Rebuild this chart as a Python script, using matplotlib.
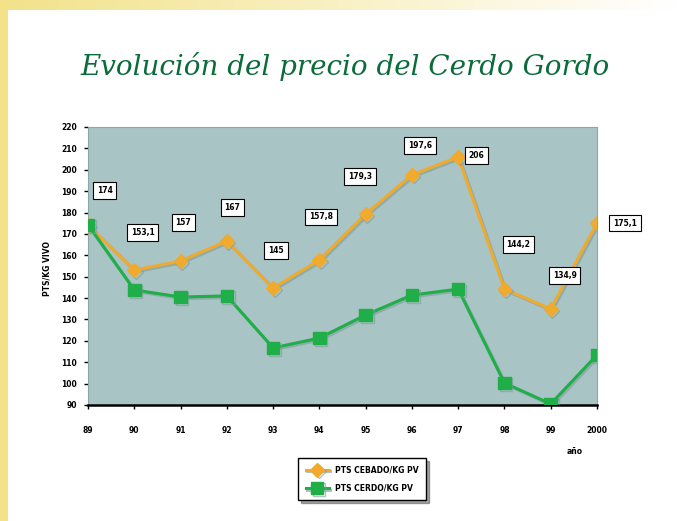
import numpy as np
import matplotlib.pyplot as plt
import matplotlib.patheffects as pe

years = ["89", "90", "91", "92", "93", "94", "95", "96", "97", "98", "99", "2000"]
precio_normal = [174.2, 153.1, 157.3, 166.7, 144.7, 157.8, 179.3, 197.6, 206.0, 144.2, 134.9, 175.1]
precio_cerdo = [174.2, 143.8, 140.5, 141.0, 116.7, 121.3, 132.1, 141.4, 144.2, 100.3, 90.5, 113.4]
box_labels = ["174", "153,1", "157", "167", "145", "157,8", "179,3", "197,6", "206", "144,2", "134,9", "175,1"]
# label box offsets in points (dx, dy)
box_offsets = [(12, 25), (6, 27), (2, 28), (4, 24), (2, 27), (1, 31), (-4, 27), (6, 21), (13, 1),
               (10, 32), (10, 24), (20, 0)]

label_a = "PTS CEBADO/KG PV"
label_b = "PTS CERDO/KG PV"

fig = plt.figure(figsize=(6.77, 5.21), dpi=100)

# yellow frame on top and left
bg = fig.add_axes([0, 0, 1, 1], zorder=-10)
bg.set_axis_off()
grad = np.linspace(1, 0, 256)[None, :]
bg.imshow(grad, extent=[0, 1, 0.98, 1], aspect="auto",
          cmap=plt.matplotlib.colors.LinearSegmentedColormap.from_list("y", ["#ffffff", "#f3e28a"]),
          vmin=0, vmax=1)
bg.add_patch(plt.Rectangle((0, 0), 0.012, 1, color="#f3e28a", lw=0))
bg.set_xlim(0, 1)
bg.set_ylim(0, 1)

fig.text(0.51, 0.872, "Evolución del precio del Cerdo Gordo", ha="center", va="center",
         fontsize=20, color="#0b6b3a", family="DejaVu Serif", style="italic")

ax = fig.add_axes([88 / 677, 1 - 405 / 521, (597 - 88) / 677, (405 - 127) / 521])
ax.set_facecolor("#a8c4c4")
x = np.arange(len(years))

shadow = [pe.SimpleLineShadow(offset=(1.2, -1.2), shadow_color="#7f9c9c", alpha=0.6), pe.Normal()]
ax.plot(x, precio_normal, color="#f0aa2e", lw=2.2, marker="D", ms=7, label=label_a,
        path_effects=shadow, zorder=3)
ax.plot(x, precio_cerdo, color="#1fae48", lw=2.2, marker="s", ms=9, label=label_b,
        path_effects=shadow, zorder=4)

for i, (v, t) in enumerate(zip(precio_normal, box_labels)):
    ax.annotate(t, (i, v), xytext=box_offsets[i], textcoords="offset points",
                ha="center", va="center", fontsize=5.5, fontweight="bold",
                bbox=dict(boxstyle="square,pad=0.5", fc="white", ec="black", lw=0.8),
                zorder=5)

ax.set_xlim(0, len(years) - 1)
ax.set_ylim(90, 220)
ax.set_xticks(x)
ax.set_xticklabels(years)
ax.set_yticks(np.arange(90, 221, 10))
ax.tick_params(labelsize=5.5, length=3, width=1)
ax.tick_params(axis="y", pad=5)
ax.tick_params(axis="x", pad=12)
for lab in ax.get_xticklabels() + ax.get_yticklabels():
    lab.set_fontweight("bold")
for s in ["top", "right", "left"]:
    ax.spines[s].set_color("#8aa8a8")
ax.spines["bottom"].set_linewidth(1.8)
ax.spines["bottom"].set_color("black")

fig.text(47 / 677, 1 - 268 / 521, "PTS/KG VIVO", rotation=90, ha="center", va="center",
         fontsize=5.5, fontweight="bold")
fig.text(575 / 677, 1 - 452 / 521, "año", ha="center", va="center", fontsize=5.5, fontweight="bold")

leg = fig.legend(loc="center", bbox_to_anchor=(362 / 677, 1 - 479 / 521), fontsize=5.5,
                 frameon=True, fancybox=False, shadow=True, edgecolor="black",
                 borderpad=1.0, labelspacing=1.2, handlelength=3)
for t in leg.get_texts():
    t.set_fontweight("bold")

fig.savefig("out.png", dpi=100)
